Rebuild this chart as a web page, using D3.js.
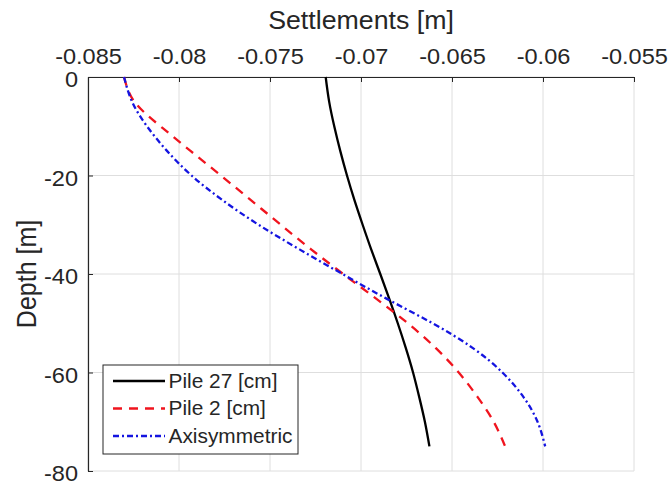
<!DOCTYPE html>
<html>
<head>
<meta charset="utf-8">
<script src="https://cdn.jsdelivr.net/npm/d3@7"></script>
<style>
  body { margin: 0; background: #fff; }
  svg { display: block; font-family: 'Liberation Sans', Arial, sans-serif; }
</style>
</head>
<body>
<svg width="669" height="485"></svg>
<script>
// depth points (m) and settlements (m)
const depths = [0, -5, -10, -15, -20, -25, -30, -35, -40, -45, -50, -55, -60, -65, -70, -75];
const pile27 = [-0.07194, -0.07175, -0.07147, -0.07114, -0.07077, -0.07036, -0.06991, -0.06944,
                -0.06894, -0.06845, -0.06798, -0.06754, -0.06714, -0.06680, -0.06649, -0.06624];
const pile2 = [-0.08302, -0.08245, -0.08102, -0.07937, -0.07770, -0.07605, -0.07441, -0.07274,
               -0.07098, -0.06917, -0.06743, -0.06590, -0.06463, -0.06359, -0.06271, -0.06208];
const axisym = [-0.08302, -0.08258, -0.08176, -0.08066, -0.07931, -0.07761, -0.07563, -0.07338,
                -0.07102, -0.06860, -0.06607, -0.06387, -0.06223, -0.06107, -0.06030, -0.05988];

const seriesNames = ['Pile 27 [cm]', 'Pile 2 [cm]', 'Axisymmetric'];
const xTicks = [-0.085, -0.08, -0.075, -0.07, -0.065, -0.06, -0.055];
const yTicks = [0, -20, -40, -60, -80];

const series = [
  {name: seriesNames[0], values: pile27, color: '#000000', dash: null},
  {name: seriesNames[1], values: pile2, color: '#f0141e', dash: '9,7'},
  {name: seriesNames[2], values: axisym, color: '#1414e0', dash: '6,3,2,3'}
];

const margin = {left: 88, top: 77, right: 35, bottom: 14};
const width = 669 - margin.left - margin.right;   // 546
const height = 485 - margin.top - margin.bottom;  // 394
const stretch = 'scale(1.07,1)'; // source image is a bit wider than tall
const axisColor = '#262626';
const gridColor = '#dedede';

const x = d3.scaleLinear().domain([-0.085, -0.055]).range([0, width]);
const y = d3.scaleLinear().domain([0, -80]).range([0, height]);

const svg = d3.select('svg');
const g = svg.append('g').attr('transform', `translate(${margin.left},${margin.top})`);

// grid + box edges on right/bottom
g.selectAll('.vgrid').data(xTicks).enter().append('line')
  .attr('x1', d => x(d)).attr('x2', d => x(d))
  .attr('y1', 0).attr('y2', height)
  .attr('stroke', gridColor).attr('stroke-width', 1);
g.selectAll('.hgrid').data(yTicks).enter().append('line')
  .attr('x1', 0).attr('x2', width)
  .attr('y1', d => y(d)).attr('y2', d => y(d))
  .attr('stroke', gridColor).attr('stroke-width', 1);

// top axis (plain hyphen minus like the original)
const xAxis = g.append('g')
  .call(d3.axisTop(x).tickValues(xTicks).tickFormat(d => String(+d.toFixed(3))).tickSize(-5).tickSizeOuter(0));
xAxis.selectAll('text')
  .attr('y', -13.5).attr('dy', 0)
  .attr('transform', stretch)
  .style('font-size', '22px').attr('fill', axisColor);

// left axis
const yAxis = g.append('g')
  .call(d3.axisLeft(y).tickValues(yTicks).tickFormat(d => String(d)).tickSize(-5).tickSizeOuter(0));
yAxis.selectAll('text')
  .attr('x', -10 / 1.07).attr('dy', '0.45em')
  .attr('transform', stretch)
  .style('font-size', '22px').attr('fill', axisColor);

[xAxis, yAxis].forEach(a => {
  a.selectAll('.domain').attr('stroke', axisColor).attr('stroke-width', 1.2);
  a.selectAll('.tick line').attr('stroke', axisColor);
});

// curves
const line = d3.line()
  .x(d => x(d[0]))
  .y(d => y(d[1]))
  .curve(d3.curveNatural);

series.forEach(s => {
  g.append('path')
    .datum(s.values.map((v, i) => [v, depths[i]]))
    .attr('d', line)
    .attr('fill', 'none')
    .attr('stroke', s.color)
    .attr('stroke-width', 2.3)
    .attr('stroke-dasharray', s.dash);
});

// axis titles
svg.append('text')
  .attr('transform', `translate(${margin.left + width / 2},28.5) ${stretch}`)
  .attr('text-anchor', 'middle')
  .style('font-size', '25px').attr('fill', axisColor)
  .text('Settlements [m]');

svg.append('text')
  .attr('transform', `translate(36,${margin.top + height / 2}) ${stretch} rotate(-90)`)
  .attr('text-anchor', 'middle')
  .style('font-size', '25px').attr('fill', axisColor)
  .text('Depth [m]');

// legend
const legend = g.append('g').attr('transform', 'translate(15,288)');
legend.append('rect')
  .attr('width', 195).attr('height', 89)
  .attr('fill', '#fff').attr('stroke', axisColor).attr('stroke-width', 1);
series.forEach((s, i) => {
  const ly = 16 + i * 27.5;
  legend.append('line')
    .attr('x1', 10).attr('x2', 62).attr('y1', ly).attr('y2', ly)
    .attr('stroke', s.color).attr('stroke-width', 2.3)
    .attr('stroke-dasharray', s.dash);
  legend.append('text')
    .attr('transform', `translate(65.5,${ly}) ${stretch}`)
    .attr('dy', '0.35em')
    .style('font-size', '19.5px').attr('fill', axisColor)
    .text(s.name);
});
</script>
</body>
</html>
